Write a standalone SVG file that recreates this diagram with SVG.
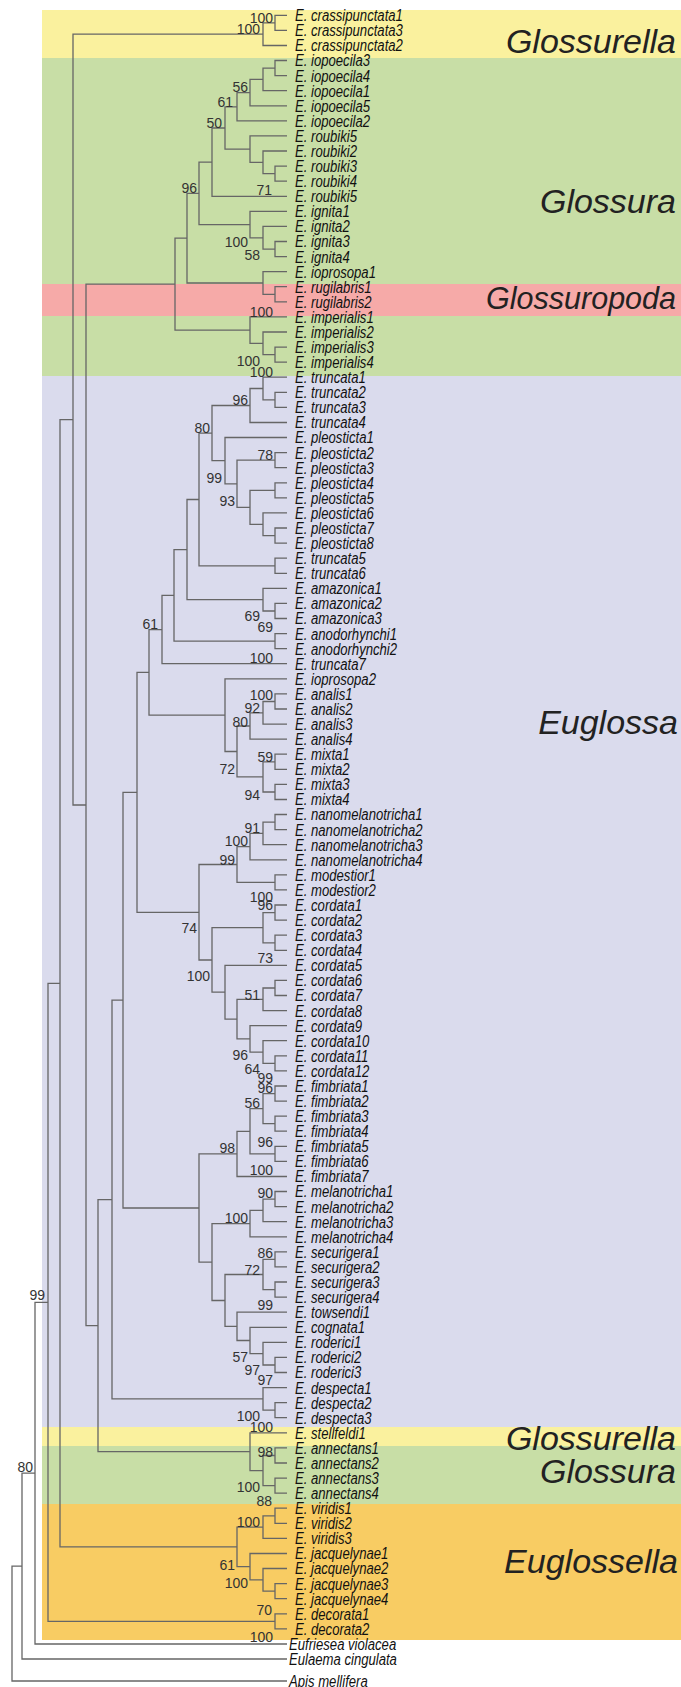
<svg xmlns="http://www.w3.org/2000/svg" width="681" height="1687" viewBox="0 0 681 1687">
<style>
.br{fill:none;stroke:#666;stroke-width:1.3}
.lf{font-family:"Liberation Sans",Arial,sans-serif;font-style:italic;font-size:16px;fill:#111}
.bs{font-family:"Liberation Sans",Arial,sans-serif;font-size:14px;fill:#333;text-anchor:end}
.cl{font-family:"Liberation Sans",Arial,sans-serif;font-style:italic;font-size:34px;fill:#222;text-anchor:end}
</style>
<rect width="681" height="1687" fill="#ffffff"/>
<g id="bands">
<rect x="42" y="10" width="639" height="48" fill="#faf19e"/>
<rect x="42" y="58" width="639" height="226" fill="#c8dea6"/>
<rect x="42" y="284" width="639" height="32" fill="#f6aaa8"/>
<rect x="42" y="316" width="639" height="60" fill="#c8dea6"/>
<rect x="42" y="376" width="639" height="1051" fill="#dadbed"/>
<rect x="42" y="1427" width="639" height="19" fill="#faf19e"/>
<rect x="42" y="1446" width="639" height="58" fill="#c8dea6"/>
<rect x="42" y="1504" width="639" height="136" fill="#f8cc63"/>
</g>
<g id="clade-labels">
<text class="cl" x="676" y="53">Glossurella</text>
<text class="cl" x="676" y="213">Glossura</text>
<text class="cl" x="676" y="309" style="font-size:30.5px">Glossuropoda</text>
<text class="cl" x="678" y="734">Euglossa</text>
<text class="cl" x="676" y="1450">Glossurella</text>
<text class="cl" x="676" y="1483">Glossura</text>
<text class="cl" x="678" y="1573">Euglossella</text>
</g>
<g id="branches" class="br">
<path d="M287 15.3H275V30.4H287"/>
<path d="M275 22.9H263V45.5H287"/>
<path d="M287 60.5H275V75.6H287"/>
<path d="M275 68.1H263V90.7H287"/>
<path d="M263 79.4H250V105.8H287"/>
<path d="M250 92.6H237V120.9H287"/>
<path d="M287 166.1H275V181.2H287"/>
<path d="M287 151H263V173.7H275"/>
<path d="M287 135.9H250V162.4H263"/>
<path d="M237 106.8H225V149.2H250"/>
<path d="M225 128H212V196.3H287"/>
<path d="M287 241.5H275V256.6H287"/>
<path d="M287 226.4H263V249.1H275"/>
<path d="M287 211.3H250V237.8H263"/>
<path d="M212 162.2H199V224.6H250"/>
<path d="M287 286.7H275V301.8H287"/>
<path d="M287 271.7H263V294.3H275"/>
<path d="M199 193.4H187V283H263"/>
<path d="M287 347.1H275V362.1H287"/>
<path d="M287 332H263V354.6H275"/>
<path d="M287 316.9H250V343.3H263"/>
<path d="M187 238.2H175V330.1H250"/>
<path d="M287 392.3H275V407.4H287"/>
<path d="M287 377.2H263V399.9H275"/>
<path d="M263 388.5H250V422.5H287"/>
<path d="M287 452.6H275V467.7H287"/>
<path d="M287 482.8H275V497.9H287"/>
<path d="M287 528H275V543.1H287"/>
<path d="M287 512.9H263V535.6H275"/>
<path d="M275 490.4H250V524.3H263"/>
<path d="M275 460.2H237V507.4H250"/>
<path d="M287 437.5H225V483.8H237"/>
<path d="M250 405.5H212V460.7H225"/>
<path d="M287 558.2H275V573.3H287"/>
<path d="M212 433.1H199V565.8H275"/>
<path d="M287 603.4H275V618.5H287"/>
<path d="M287 588.3H263V611H275"/>
<path d="M199 499.5H187V599.7H263"/>
<path d="M287 633.6H275V648.7H287"/>
<path d="M187 549.6H174V641.2H275"/>
<path d="M174 595.4H162V663.7H287"/>
<path d="M287 693.9H275V709H287"/>
<path d="M275 701.5H263V724.1H287"/>
<path d="M263 712.8H250V739.1H287"/>
<path d="M287 754.2H275V769.3H287"/>
<path d="M287 784.4H275V799.5H287"/>
<path d="M275 761.8H263V792H275"/>
<path d="M250 726H237V776.9H263"/>
<path d="M287 678.8H225V751.5H237"/>
<path d="M162 629.6H149V715.2H225"/>
<path d="M287 814.5H275V829.6H287"/>
<path d="M275 822.1H263V844.7H287"/>
<path d="M263 833.4H250V859.8H287"/>
<path d="M287 874.9H275V889.9H287"/>
<path d="M250 846.6H237V882.4H275"/>
<path d="M287 905H275V920.1H287"/>
<path d="M287 935.2H275V950.3H287"/>
<path d="M275 912.6H263V942.8H275"/>
<path d="M287 980.4H275V995.5H287"/>
<path d="M275 988H263V1010.6H287"/>
<path d="M287 1055.8H275V1070.9H287"/>
<path d="M287 1040.7H263V1063.4H275"/>
<path d="M287 1025.7H250V1052.1H263"/>
<path d="M263 999.3H237V1038.9H250"/>
<path d="M287 965.3H225V1019.1H237"/>
<path d="M263 927.7H212V992.2H225"/>
<path d="M237 864.5H199V960H212"/>
<path d="M149 672.4H137V912.3H199"/>
<path d="M287 1086H275V1101.1H287"/>
<path d="M287 1116.1H275V1131.2H287"/>
<path d="M275 1093.6H263V1123.7H275"/>
<path d="M287 1146.3H275V1161.4H287"/>
<path d="M263 1108.7H250V1153.9H275"/>
<path d="M250 1131.3H237V1176.5H287"/>
<path d="M287 1191.5H275V1206.6H287"/>
<path d="M275 1199.1H263V1221.7H287"/>
<path d="M263 1210.4H250V1236.8H287"/>
<path d="M287 1251.9H275V1266.9H287"/>
<path d="M287 1282H275V1297.1H287"/>
<path d="M275 1259.4H263V1289.6H275"/>
<path d="M287 1357.4H275V1372.5H287"/>
<path d="M287 1342.3H263V1365H275"/>
<path d="M287 1327.3H250V1353.7H263"/>
<path d="M287 1312.2H237V1340.5H250"/>
<path d="M263 1274.5H225V1326.4H237"/>
<path d="M250 1223.6H212V1300.5H225"/>
<path d="M237 1153.9H199V1262.1H212"/>
<path d="M137 792.4H123V1208H199"/>
<path d="M287 1402.7H275V1417.7H287"/>
<path d="M287 1387.6H263V1410.2H275"/>
<path d="M123 1000.2H112V1398.9H263"/>
<path d="M287 1447.9H275V1463H287"/>
<path d="M287 1478.1H275V1493.1H287"/>
<path d="M275 1455.5H263V1485.6H275"/>
<path d="M287 1432.8H250V1470.6H263"/>
<path d="M112 1199.6H98V1451.7H250"/>
<path d="M175 284.2H86V1325.7H98"/>
<path d="M263 34.2H73V805H86"/>
<path d="M287 1508.2H275V1523.3H287"/>
<path d="M275 1515.8H263V1538.4H287"/>
<path d="M287 1583.6H275V1598.7H287"/>
<path d="M287 1568.5H263V1591.2H275"/>
<path d="M287 1553.5H250V1579.9H263"/>
<path d="M263 1527.1H237V1566.7H250"/>
<path d="M73 419.6H60V1546.9H237"/>
<path d="M287 1613.8H275V1628.9H287"/>
<path d="M60 983.3H48V1621.4H275"/>
<path d="M48 1302.4H35V1644H287"/>
<path d="M35 1473.2H22V1659H287"/>
<path d="M22 1566.1H12V1681H287"/>
</g>
<g id="support" class="bs">
<text x="273" y="23">100</text>
<text x="260" y="33.5">100</text>
<text x="248" y="92">56</text>
<text x="233" y="107">61</text>
<text x="222" y="128">50</text>
<text x="197" y="193">96</text>
<text x="272" y="195">71</text>
<text x="248" y="247">100</text>
<text x="260" y="259.5">58</text>
<text x="273" y="317">100</text>
<text x="260" y="366">100</text>
<text x="273" y="377">100</text>
<text x="248" y="405">96</text>
<text x="210" y="433">80</text>
<text x="273" y="460">78</text>
<text x="222" y="483">99</text>
<text x="235" y="506">93</text>
<text x="260" y="621">69</text>
<text x="273" y="632">69</text>
<text x="158" y="629">61</text>
<text x="273" y="663">100</text>
<text x="273" y="700">100</text>
<text x="260" y="713">92</text>
<text x="248" y="726.5">80</text>
<text x="273" y="761.5">59</text>
<text x="235" y="774">72</text>
<text x="260" y="800">94</text>
<text x="260" y="833">91</text>
<text x="248" y="846">100</text>
<text x="235" y="864.5">99</text>
<text x="273" y="901.5">100</text>
<text x="273" y="910">96</text>
<text x="197" y="933">74</text>
<text x="273" y="963">73</text>
<text x="210" y="981">100</text>
<text x="260" y="1000">51</text>
<text x="248" y="1060">96</text>
<text x="260" y="1074">64</text>
<text x="273" y="1083">99</text>
<text x="273" y="1093">96</text>
<text x="260" y="1108">56</text>
<text x="273" y="1146.5">96</text>
<text x="235" y="1153">98</text>
<text x="273" y="1175">100</text>
<text x="273" y="1198">90</text>
<text x="248" y="1223">100</text>
<text x="273" y="1258">86</text>
<text x="260" y="1275">72</text>
<text x="273" y="1310">99</text>
<text x="248" y="1361.5">57</text>
<text x="260" y="1375">97</text>
<text x="273" y="1385">97</text>
<text x="260" y="1420.5">100</text>
<text x="273" y="1431.5">100</text>
<text x="273" y="1456.5">98</text>
<text x="260" y="1491.5">100</text>
<text x="272" y="1506">88</text>
<text x="260" y="1526.5">100</text>
<text x="235" y="1570">61</text>
<text x="248" y="1588">100</text>
<text x="272" y="1615">70</text>
<text x="273" y="1641.5">100</text>
<text x="45" y="1300">99</text>
<text x="33" y="1472">80</text>
</g>
<g id="leaves" class="lf" transform="translate(295 0) scale(0.82 1)">
<g id="L1"><text y="21.3">E. crassipunctata1</text></g>
<g id="L2"><text y="36.4">E. crassipunctata3</text></g>
<g id="L3"><text y="51.5">E. crassipunctata2</text></g>
<g id="L4"><text y="66.5">E. iopoecila3</text></g>
<g id="L5"><text y="81.6">E. iopoecila4</text></g>
<g id="L6"><text y="96.7">E. iopoecila1</text></g>
<g id="L7"><text y="111.8">E. iopoecila5</text></g>
<g id="L8"><text y="126.9">E. iopoecila2</text></g>
<g id="L9"><text y="141.9">E. roubiki5</text></g>
<g id="L10"><text y="157">E. roubiki2</text></g>
<g id="L11"><text y="172.1">E. roubiki3</text></g>
<g id="L12"><text y="187.2">E. roubiki4</text></g>
<g id="L13"><text y="202.3">E. roubiki5</text></g>
<g id="L14"><text y="217.3">E. ignita1</text></g>
<g id="L15"><text y="232.4">E. ignita2</text></g>
<g id="L16"><text y="247.5">E. ignita3</text></g>
<g id="L17"><text y="262.6">E. ignita4</text></g>
<g id="L18"><text y="277.7">E. ioprosopa1</text></g>
<g id="L19"><text y="292.7">E. rugilabris1</text></g>
<g id="L20"><text y="307.8">E. rugilabris2</text></g>
<g id="L21"><text y="322.9">E. imperialis1</text></g>
<g id="L22"><text y="338">E. imperialis2</text></g>
<g id="L23"><text y="353.1">E. imperialis3</text></g>
<g id="L24"><text y="368.1">E. imperialis4</text></g>
<g id="L25"><text y="383.2">E. truncata1</text></g>
<g id="L26"><text y="398.3">E. truncata2</text></g>
<g id="L27"><text y="413.4">E. truncata3</text></g>
<g id="L28"><text y="428.5">E. truncata4</text></g>
<g id="L29"><text y="443.5">E. pleosticta1</text></g>
<g id="L30"><text y="458.6">E. pleosticta2</text></g>
<g id="L31"><text y="473.7">E. pleosticta3</text></g>
<g id="L32"><text y="488.8">E. pleosticta4</text></g>
<g id="L33"><text y="503.9">E. pleosticta5</text></g>
<g id="L34"><text y="518.9">E. pleosticta6</text></g>
<g id="L35"><text y="534">E. pleosticta7</text></g>
<g id="L36"><text y="549.1">E. pleosticta8</text></g>
<g id="L37"><text y="564.2">E. truncata5</text></g>
<g id="L38"><text y="579.3">E. truncata6</text></g>
<g id="L39"><text y="594.3">E. amazonica1</text></g>
<g id="L40"><text y="609.4">E. amazonica2</text></g>
<g id="L41"><text y="624.5">E. amazonica3</text></g>
<g id="L42"><text y="639.6">E. anodorhynchi1</text></g>
<g id="L43"><text y="654.7">E. anodorhynchi2</text></g>
<g id="L44"><text y="669.7">E. truncata7</text></g>
<g id="L45"><text y="684.8">E. ioprosopa2</text></g>
<g id="L46"><text y="699.9">E. analis1</text></g>
<g id="L47"><text y="715">E. analis2</text></g>
<g id="L48"><text y="730.1">E. analis3</text></g>
<g id="L49"><text y="745.1">E. analis4</text></g>
<g id="L50"><text y="760.2">E. mixta1</text></g>
<g id="L51"><text y="775.3">E. mixta2</text></g>
<g id="L52"><text y="790.4">E. mixta3</text></g>
<g id="L53"><text y="805.5">E. mixta4</text></g>
<g id="L54"><text y="820.5">E. nanomelanotricha1</text></g>
<g id="L55"><text y="835.6">E. nanomelanotricha2</text></g>
<g id="L56"><text y="850.7">E. nanomelanotricha3</text></g>
<g id="L57"><text y="865.8">E. nanomelanotricha4</text></g>
<g id="L58"><text y="880.9">E. modestior1</text></g>
<g id="L59"><text y="895.9">E. modestior2</text></g>
<g id="L60"><text y="911">E. cordata1</text></g>
<g id="L61"><text y="926.1">E. cordata2</text></g>
<g id="L62"><text y="941.2">E. cordata3</text></g>
<g id="L63"><text y="956.3">E. cordata4</text></g>
<g id="L64"><text y="971.3">E. cordata5</text></g>
<g id="L65"><text y="986.4">E. cordata6</text></g>
<g id="L66"><text y="1001.5">E. cordata7</text></g>
<g id="L67"><text y="1016.6">E. cordata8</text></g>
<g id="L68"><text y="1031.7">E. cordata9</text></g>
<g id="L69"><text y="1046.7">E. cordata10</text></g>
<g id="L70"><text y="1061.8">E. cordata11</text></g>
<g id="L71"><text y="1076.9">E. cordata12</text></g>
<g id="L72"><text y="1092">E. fimbriata1</text></g>
<g id="L73"><text y="1107.1">E. fimbriata2</text></g>
<g id="L74"><text y="1122.1">E. fimbriata3</text></g>
<g id="L75"><text y="1137.2">E. fimbriata4</text></g>
<g id="L76"><text y="1152.3">E. fimbriata5</text></g>
<g id="L77"><text y="1167.4">E. fimbriata6</text></g>
<g id="L78"><text y="1182.5">E. fimbriata7</text></g>
<g id="L79"><text y="1197.5">E. melanotricha1</text></g>
<g id="L80"><text y="1212.6">E. melanotricha2</text></g>
<g id="L81"><text y="1227.7">E. melanotricha3</text></g>
<g id="L82"><text y="1242.8">E. melanotricha4</text></g>
<g id="L83"><text y="1257.9">E. securigera1</text></g>
<g id="L84"><text y="1272.9">E. securigera2</text></g>
<g id="L85"><text y="1288">E. securigera3</text></g>
<g id="L86"><text y="1303.1">E. securigera4</text></g>
<g id="L87"><text y="1318.2">E. towsendi1</text></g>
<g id="L88"><text y="1333.3">E. cognata1</text></g>
<g id="L89"><text y="1348.3">E. roderici1</text></g>
<g id="L90"><text y="1363.4">E. roderici2</text></g>
<g id="L91"><text y="1378.5">E. roderici3</text></g>
<g id="L92"><text y="1393.6">E. despecta1</text></g>
<g id="L93"><text y="1408.7">E. despecta2</text></g>
<g id="L94"><text y="1423.7">E. despecta3</text></g>
<g id="L95"><text y="1438.8">E. stellfeldi1</text></g>
<g id="L96"><text y="1453.9">E. annectans1</text></g>
<g id="L97"><text y="1469">E. annectans2</text></g>
<g id="L98"><text y="1484.1">E. annectans3</text></g>
<g id="L99"><text y="1499.1">E. annectans4</text></g>
<g id="L100"><text y="1514.2">E. viridis1</text></g>
<g id="L101"><text y="1529.3">E. viridis2</text></g>
<g id="L102"><text y="1544.4">E. viridis3</text></g>
<g id="L103"><text y="1559.5">E. jacquelynae1</text></g>
<g id="L104"><text y="1574.5">E. jacquelynae2</text></g>
<g id="L105"><text y="1589.6">E. jacquelynae3</text></g>
<g id="L106"><text y="1604.7">E. jacquelynae4</text></g>
<g id="L107"><text y="1619.8">E. decorata1</text></g>
<g id="L108"><text y="1634.9">E. decorata2</text></g>
<g id="L109"><text x="-7.3" y="1650">Eufriesea violacea</text></g>
<g id="L110"><text x="-7.3" y="1665">Eulaema cingulata</text></g>
<g id="L111"><text x="-7.3" y="1687">Apis mellifera</text></g>
</g>
</svg>
